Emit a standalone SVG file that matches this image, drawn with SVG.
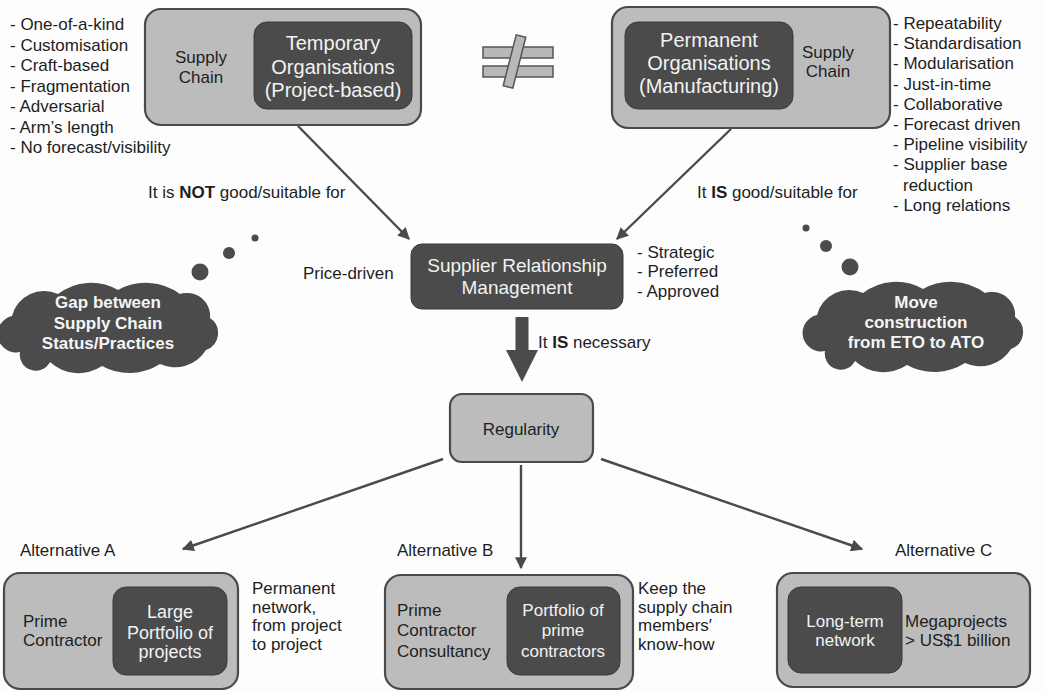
<svg xmlns="http://www.w3.org/2000/svg" width="1045" height="692" viewBox="0 0 1045 692">
<defs>
<style>
text{font-family:"Liberation Sans",Arial,sans-serif;font-size:17px;fill:#1e1e1e}
.outer{fill:#bcbcbc;stroke:#4a4a4a;stroke-width:2.2}
.inner{fill:#4b4b4b;stroke:#3a3a3a;stroke-width:1}
.wt{fill:#f2f2f2}
.c{text-anchor:middle}
.b{font-weight:bold}
.cloud{fill:#4b4b4b}
.ct{fill:#f5f5f5;font-weight:bold;text-anchor:middle}
.conn{stroke:#4a4a4a;stroke-width:2.4;fill:none;marker-end:url(#ah)}
.neq{fill:#b8b8b8;stroke:#555;stroke-width:1.5}
</style>
<marker id="ah" viewBox="0 0 10 10" refX="9" refY="5" markerWidth="5" markerHeight="5" orient="auto" markerUnits="strokeWidth">
<path d="M0,0 L10,5 L0,10 z" fill="#4a4a4a"/>
</marker>
<path id="cloudShape" d="M20,352 A16,16 0 0 1 12,316 A33,33 0 0 1 58,294 A54,54 0 0 1 118,290 A58,58 0 0 1 180,294 A23,23 0 0 1 210,318 A18,18 0 0 1 206,350 A36.5,36.5 0 0 1 160,364 A57,57 0 0 1 102,366 A42,42 0 0 1 50,362 A16,16 0 0 1 20,352 Z"/>
</defs>
<rect width="1045" height="692" fill="#fdfdfd"/>

<g id="list-left">
<text x="10" y="30">- One-of-a-kind</text>
<text x="10" y="50.5">- Customisation</text>
<text x="10" y="71">- Craft-based</text>
<text x="10" y="91.5">- Fragmentation</text>
<text x="10" y="112">- Adversarial</text>
<text x="10" y="132.5">- Arm’s length</text>
<text x="10" y="153">- No forecast/visibility</text>
</g>

<g id="temporary">
<rect class="outer" x="145" y="9" width="276" height="116" rx="16"/>
<rect class="inner" x="254" y="22" width="158" height="87" rx="13"/>
<text class="c" x="201" y="63">Supply</text>
<text class="c" x="201" y="83">Chain</text>
<text class="c wt" x="333" y="50" style="font-size:20px">Temporary</text>
<text class="c wt" x="333" y="74" style="font-size:20px">Organisations</text>
<text class="c wt" x="333" y="97" style="font-size:20px">(Project-based)</text>
</g>

<g id="not-equal">
<rect class="neq" x="483" y="47" width="70" height="11"/>
<rect class="neq" x="483" y="66" width="70" height="11"/>
<polygon class="neq" points="525.8,37.2 516.2,34.8 503.2,85.8 512.8,88.2"/>
</g>

<g id="permanent">
<rect class="outer" x="612" y="7" width="278" height="121" rx="16"/>
<rect class="inner" x="625" y="22" width="168" height="87" rx="13"/>
<text class="c wt" x="709" y="47" style="font-size:20px">Permanent</text>
<text class="c wt" x="709" y="70" style="font-size:20px">Organisations</text>
<text class="c wt" x="709" y="93" style="font-size:20px">(Manufacturing)</text>
<text class="c" x="828" y="58">Supply</text>
<text class="c" x="828" y="77">Chain</text>
</g>

<g id="list-right">
<text x="893" y="29">- Repeatability</text>
<text x="893" y="49.2">- Standardisation</text>
<text x="893" y="69.4">- Modularisation</text>
<text x="893" y="89.6">- Just-in-time</text>
<text x="893" y="109.8">- Collaborative</text>
<text x="893" y="130">- Forecast driven</text>
<text x="893" y="150.2">- Pipeline visibility</text>
<text x="893" y="170.4">- Supplier base</text>
<text x="903" y="190.6">reduction</text>
<text x="893" y="210.8">- Long relations</text>
</g>

<g id="connectors">
<line class="conn" x1="298" y1="126" x2="409" y2="239"/>
<line class="conn" x1="731" y1="129" x2="617" y2="239"/>
<line class="conn" x1="443" y1="459" x2="183" y2="549"/>
<line class="conn" x1="521" y1="465" x2="521" y2="568"/>
<line class="conn" x1="601" y1="459" x2="862" y2="549"/>
<polygon points="515.5,317 528.5,317 528.5,350 538,350 522,382 506,350 515.5,350" fill="#4b4b4b"/>
</g>

<g id="labels">
<text x="148" y="198">It is <tspan class="b">NOT</tspan> good/suitable for</text>
<text x="697" y="198">It <tspan class="b">IS</tspan> good/suitable for</text>
<text x="303" y="279">Price-driven</text>
<text x="538" y="348">It <tspan class="b">IS</tspan> necessary</text>
<text x="20" y="556">Alternative A</text>
<text x="397" y="556">Alternative B</text>
<text x="895" y="556">Alternative C</text>
</g>

<g id="srm">
<rect class="inner" x="411" y="244" width="212" height="65" rx="11"/>
<text class="c wt" x="517" y="272" style="font-size:19px">Supplier Relationship</text>
<text class="c wt" x="517" y="294" style="font-size:19px">Management</text>
</g>

<g id="srm-list">
<text x="637" y="257.5">- Strategic</text>
<text x="637" y="277">- Preferred</text>
<text x="637" y="296.5">- Approved</text>
</g>

<g id="cloud-gap">
<circle class="cloud" cx="200" cy="272" r="8.5"/>
<circle class="cloud" cx="229" cy="253" r="6"/>
<circle class="cloud" cx="255" cy="238" r="3.5"/>
<use href="#cloudShape" class="cloud"/>
<text class="ct" x="108" y="308">Gap between</text>
<text class="ct" x="108" y="329">Supply Chain</text>
<text class="ct" x="108" y="349">Status/Practices</text>
</g>

<g id="cloud-move">
<circle class="cloud" cx="806" cy="228" r="3.5"/>
<circle class="cloud" cx="826" cy="246" r="6"/>
<circle class="cloud" cx="850" cy="267" r="8.5"/>
<use href="#cloudShape" class="cloud" transform="translate(805,-1)"/>
<text class="ct" x="916" y="308">Move</text>
<text class="ct" x="916" y="328">construction</text>
<text class="ct" x="916" y="348">from ETO to ATO</text>
</g>

<g id="regularity">
<rect class="outer" x="450" y="394" width="143" height="68" rx="12"/>
<text class="c" x="521" y="435">Regularity</text>
</g>

<g id="alt-a">
<rect class="outer" x="4" y="573" width="234" height="116" rx="16"/>
<rect class="inner" x="113" y="587" width="114" height="88" rx="13"/>
<text x="23" y="627">Prime</text>
<text x="23" y="646">Contractor</text>
<text class="c wt" x="170" y="618" style="font-size:18px">Large</text>
<text class="c wt" x="170" y="639" style="font-size:18px">Portfolio of</text>
<text class="c wt" x="170" y="658" style="font-size:18px">projects</text>
<text x="252" y="594">Permanent</text>
<text x="252" y="612.5">network,</text>
<text x="252" y="631">from project</text>
<text x="252" y="649.5">to project</text>
</g>

<g id="alt-b">
<rect class="outer" x="385" y="575" width="248" height="114" rx="16"/>
<rect class="inner" x="507" y="587" width="113" height="88" rx="13"/>
<text x="397" y="616">Prime</text>
<text x="397" y="636">Contractor</text>
<text x="397" y="657">Consultancy</text>
<text class="c wt" x="563" y="616">Portfolio of</text>
<text class="c wt" x="563" y="636">prime</text>
<text class="c wt" x="563" y="657">contractors</text>
<text x="638" y="594">Keep the</text>
<text x="638" y="612.5">supply chain</text>
<text x="638" y="631">members′</text>
<text x="638" y="649.5">know-how</text>
</g>

<g id="alt-c">
<rect class="outer" x="777" y="573" width="253" height="114" rx="16"/>
<rect class="inner" x="788" y="587" width="114" height="86" rx="13"/>
<text class="c wt" x="845" y="627">Long-term</text>
<text class="c wt" x="845" y="646">network</text>
<text x="905" y="627">Megaprojects</text>
<text x="905" y="646">&gt; US$1 billion</text>
</g>
</svg>
